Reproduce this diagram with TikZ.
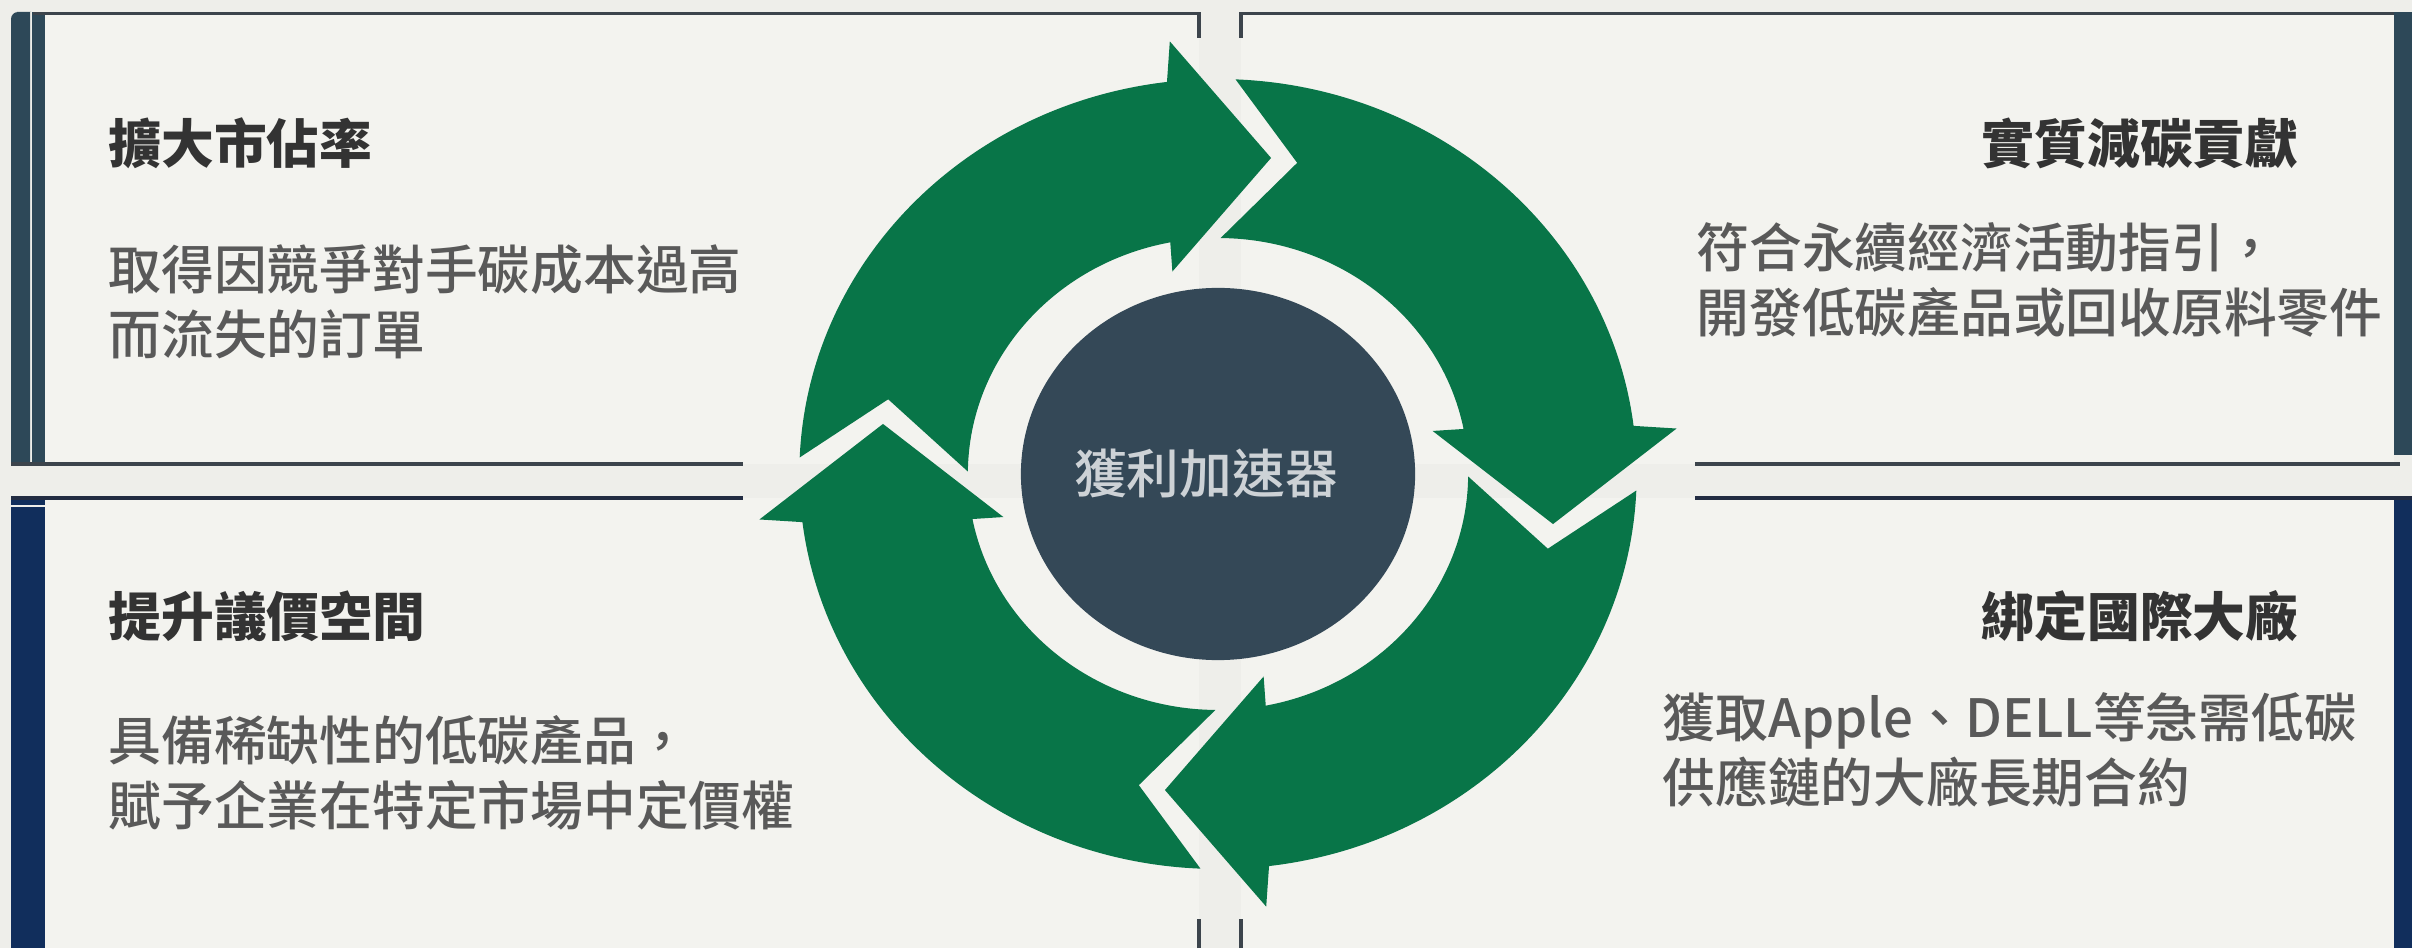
\documentclass[tikz,border=0pt]{standalone}
\usepackage{fontspec}
\setmainfont{Noto Sans CJK TC}
\newfontfamily\medfont{Noto Sans CJK TC Medium}
\usetikzlibrary{shapes.geometric}
\definecolor{fondo}{RGB}{238,238,234}
\definecolor{panelfill}{RGB}{243,243,239}
\definecolor{arrowgreen}{RGB}{8,117,72}
\definecolor{coreslate}{RGB}{52,72,87}
\definecolor{barslate}{RGB}{45,72,88}
\definecolor{barnavy}{RGB}{17,46,92}
\definecolor{linegray}{RGB}{60,68,76}
\definecolor{linenavy}{RGB}{34,44,66}
\definecolor{titlegray}{RGB}{51,51,51}
\definecolor{bodygray}{RGB}{89,89,89}
\definecolor{coretext}{RGB}{205,210,214}

\tikzset{
  linea/.style={line width=1pt, draw=linegray},
  titulo/.style={inner sep=0, text=titlegray, font=\bfseries\fontsize{15}{18.5}\selectfont},
  cuerpo/.style={inner sep=0, align=left, text=bodygray, font=\medfont\fontsize{15}{18.5}\selectfont},
  flecha/.style={fill=arrowgreen}
}

\begin{document}
\begin{tikzpicture}[x=0.01cm, y=0.01cm]
  \useasboundingbox (0,0) rectangle (2412,948);
  \fill[fondo] (0,0) rectangle (2412,948);

  % Paneles
  \fill[panelfill] (45,484) rectangle (1199,934);
  \fill[panelfill] (1241,484) rectangle (2394,934);
  \fill[panelfill] (45,0) rectangle (1199,450);
  \fill[panelfill] (1241,0) rectangle (2394,450);

  % Barras laterales
  \fill[barslate] (30,484) -- (11,484) -- (11,900) [rounded corners=2pt] -- (11,936) -- (24,936) [sharp corners] -- (30,936) -- cycle;
  \fill[barslate] (32,484) rectangle (45,936);
  \fill[barslate] (2394,493) rectangle (2412,936);
  \fill[barnavy] (11,0) rectangle (45,451);
  \draw[fondo, line width=0.4pt] (11,442) -- (45,442);
  \fill[barnavy] (2394,0) rectangle (2412,448);

  % Lineas
  \draw[linea] (33,934.5) -- (1199,934.5) -- (1199,910);
  \draw[linea] (1241,910) -- (1241,934.5) -- (2394,934.5);
  \draw[linea] (1199,0) -- (1199,29);
  \draw[linea] (1241,0) -- (1241,29);
  \draw[linea] (11,484) -- (743,484);
  \draw[linea, draw=linenavy] (11,450) -- (743,450);
  \draw[linea] (1695,484) -- (2400,484);
  \draw[linea, draw=linenavy] (1695,450) -- (2412,450);

  % Flechas del ciclo
  \begin{scope}[shift={(1218,474)}, xscale=1.06]
    \fill[flecha, rotate=0] (177.6:395) arc[start angle=177.6, end angle=97, radius=395] -- (96:435) -- (81:320) -- (102:207) -- (101:236) arc[start angle=101, end angle=179.4, radius=236] -- (166.5:320) -- cycle;
    \fill[flecha, rotate=-90] (177.6:395) arc[start angle=177.6, end angle=97, radius=395] -- (96:435) -- (81:320) -- (102:207) -- (101:236) arc[start angle=101, end angle=179.4, radius=236] -- (166.5:320) -- cycle;
    \fill[flecha, rotate=-180] (177.6:395) arc[start angle=177.6, end angle=97, radius=395] -- (96:435) -- (81:320) -- (102:207) -- (101:236) arc[start angle=101, end angle=179.4, radius=236] -- (166.5:320) -- cycle;
    \fill[flecha, rotate=-270] (177.6:395) arc[start angle=177.6, end angle=97, radius=395] -- (96:435) -- (81:320) -- (102:207) -- (101:236) arc[start angle=101, end angle=179.4, radius=236] -- (166.5:320) -- cycle;
  \end{scope}

  % Nodo central
  \node[ellipse, fill=coreslate, minimum width=3.94cm, minimum height=3.72cm, inner sep=0, text=coretext, font=\medfont\fontsize{15}{18}\selectfont] (core) at (1218,474) {\kern-0.24cm獲利加速器};

  % Textos de los paneles
  \node[titulo, anchor=west] (market) at (108,805) {擴大市佔率};
  \node[cuerpo, anchor=west] (marketText) at (108,646) {取得因競爭對手碳成本過高\\而流失的訂單};

  \node[titulo, anchor=east] (carbon) at (2299,805) {實質減碳貢獻};
  \node[cuerpo, anchor=west] (carbonText) at (1696,668) {符合永續經濟活動指引，\\開發低碳產品或回收原料零件};

  \node[titulo, anchor=west] (pricing) at (108,332) {提升議價空間};
  \node[cuerpo, anchor=west] (pricingText) at (108,175) {具備稀缺性的低碳產品，\\賦予企業在特定市場中定價權};

  \node[titulo, anchor=east] (clients) at (2299,332) {綁定國際大廠};
  \node[cuerpo, anchor=west] (clientsText) at (1662,198) {獲取Apple、DELL等急需低碳\\供應鏈的大廠長期合約};
\end{tikzpicture}
\end{document}
